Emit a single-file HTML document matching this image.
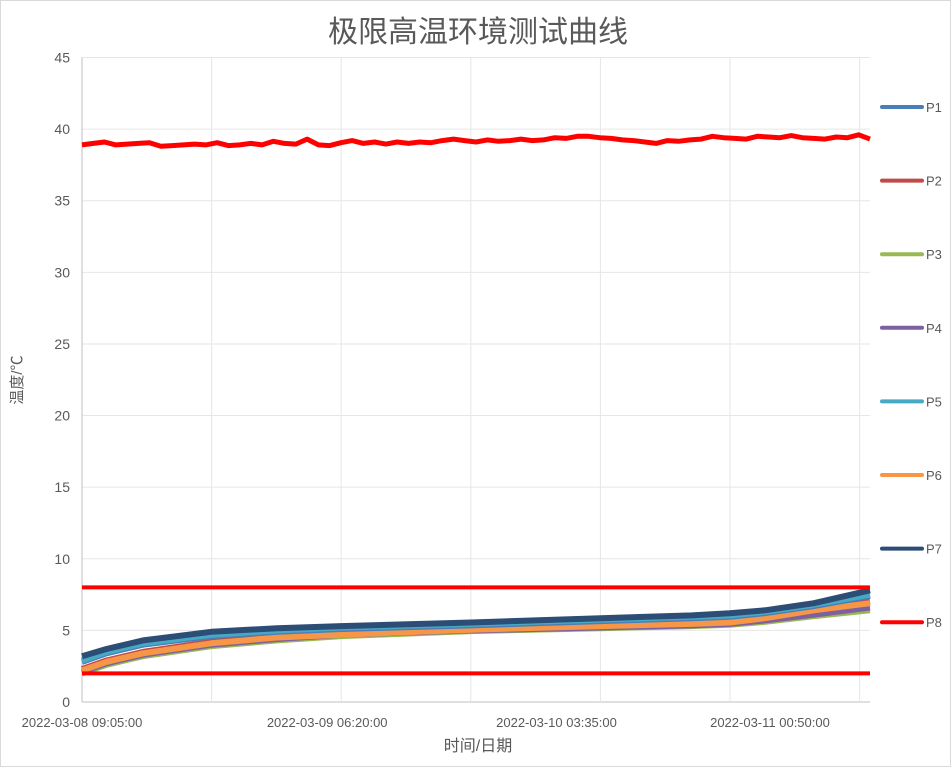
<!DOCTYPE html>
<html><head><meta charset="utf-8"><style>
html,body{margin:0;padding:0;background:#fff;}
body{width:952px;height:768px;overflow:hidden;font-family:"Liberation Sans","Noto Sans CJK SC",sans-serif;}
svg text{font-family:"Liberation Sans","Noto Sans CJK SC",sans-serif;}
</style></head><body>
<svg id="chart" width="952" height="768" xmlns="http://www.w3.org/2000/svg">
<rect x="0.5" y="0.5" width="950" height="766" fill="#fff" stroke="#d9d9d9"/>
<text x="478" y="42" text-anchor="middle" font-size="30" fill="#595959">极限高温环境测试曲线</text>
<text transform="translate(22,380) rotate(-90)" text-anchor="middle" font-size="15" fill="#595959">温度/℃</text>
<text x="478" y="751" text-anchor="middle" font-size="16" fill="#595959">时间/日期</text>
<g id="grid"></g><g id="series"></g><g id="axes"></g><g id="legend"></g>
</svg>
<script>
const yTicks=[0,5,10,15,20,25,30,35,40,45];
const xTickLabels=["2022-03-08 09:05:00","2022-03-09 06:20:00","2022-03-10 03:35:00","2022-03-11 00:50:00"];
const xTickHours=[0,20.1,38.9,56.4];
const gridHours=[10.625,21.25,31.875,42.5,53.125,63.75];
const times=[0,2,5,10.6,16,21.25,31.9,42.5,50,53.1,56,60,64.6];
const seriesNames=["P1","P2","P3","P4","P5","P6","P7","P8"];
const seriesColors=["#4a7ebb","#be4b48","#98b954","#7d60a0","#46aac5","#f79646","#2c4d75","#ff0000"];
const p1=[2.8,3.4,4.0,4.6,4.9,5.1,5.35,5.65,5.85,5.95,6.2,6.7,7.4];
const p2=[2.3,2.9,3.5,4.2,4.6,4.8,5.1,5.35,5.5,5.6,5.9,6.4,7.0];
const p3=[2.0,2.6,3.2,3.9,4.3,4.6,4.95,5.15,5.3,5.4,5.6,6.0,6.4];
const p4=[2.1,2.7,3.3,4.0,4.4,4.7,5.0,5.2,5.35,5.45,5.7,6.1,6.6];
const p5=[2.9,3.5,4.1,4.7,5.0,5.2,5.45,5.75,5.95,6.05,6.3,6.8,7.5];
const p6=[2.2,2.8,3.4,4.1,4.5,4.7,5.05,5.3,5.45,5.55,5.85,6.4,6.9];
const p7=[3.2,3.7,4.3,4.9,5.15,5.3,5.55,5.85,6.05,6.2,6.4,6.9,7.8];
const p8=[38.9,39.0,39.1,38.9,38.95,39.0,39.05,38.8,38.85,38.9,38.95,38.9,39.05,38.85,38.9,39.0,38.9,39.15,39.0,38.95,39.3,38.9,38.85,39.05,39.2,39.0,39.1,38.95,39.1,39.0,39.1,39.05,39.2,39.3,39.2,39.1,39.25,39.15,39.2,39.3,39.2,39.25,39.4,39.35,39.5,39.5,39.4,39.35,39.25,39.2,39.1,39.0,39.2,39.15,39.25,39.3,39.5,39.4,39.35,39.3,39.5,39.45,39.4,39.55,39.4,39.35,39.3,39.45,39.4,39.6,39.3];
const upperLimit=8, lowerLimit=2;
const ns="http://www.w3.org/2000/svg";
const X0=82,X1=870,Y0=702,Y45=57.5,TMAX=64.6;
function sx(h){return X0+h/TMAX*(X1-X0);}
function sy(v){return Y0-v/45*(Y0-Y45);}
function mk(tag,attrs,parent){const e=document.createElementNS(ns,tag);for(const k in attrs)e.setAttribute(k,attrs[k]);parent.appendChild(e);return e;}
const grid=document.getElementById('grid'),ser=document.getElementById('series'),axes=document.getElementById('axes'),leg=document.getElementById('legend');
yTicks.forEach(v=>{
  const l=mk('line',{x1:X0,x2:X1,y1:sy(v),y2:sy(v),stroke:v===0?'#bfbfbf':'#e6e6e6','stroke-width':1},grid);
  
  
  const t=mk('text',{x:70,y:sy(v)+5,'text-anchor':'end','font-size':14,fill:'#595959'},axes);
  t.textContent=v;
  
  
});
mk('line',{x1:X0,x2:X0,y1:Y45,y2:Y0,stroke:'#bfbfbf'},grid);
gridHours.forEach(h=>{
  const l=mk('line',{x1:sx(h),x2:sx(h),y1:Y45,y2:Y0,stroke:'#e6e6e6'},grid);
  
  
});
xTickLabels.forEach((s,i)=>{
  const t=mk('text',{x:sx(xTickHours[i]),y:727,'text-anchor':'middle','font-size':13,fill:'#595959'},axes);
  t.textContent=s;
  
  
});
function poly(vals,ts,color,w,name){
  const pts=vals.map((v,i)=>sx(ts[i]).toFixed(1)+','+sy(v).toFixed(1)).join(' ');
  const p=mk('polyline',{points:pts,fill:'none',stroke:color,'stroke-width':w,'stroke-linejoin':'round'},ser);
  
  
}
const data=[p3,p4,p2,p6,p1,p5,p7];const idx=[2,3,1,5,0,4,6];
data.forEach((d,k)=>poly(d,times,seriesColors[idx[k]],6,'series-'+seriesNames[idx[k]].toLowerCase()));
const p8t=p8.map((v,i)=>i*TMAX/(p8.length-1));
poly(p8,p8t,'#ff0000',5,'series-p8');
poly([upperLimit,upperLimit],[0,TMAX],'#ff0000',4,'upper-limit-line');
poly([lowerLimit,lowerLimit],[0,TMAX],'#ff0000',4,'lower-limit-line');
seriesNames.forEach((n,i)=>{
  const y=107+i*73.6;
  const g=mk('g',{},leg);
  
  
  mk('line',{x1:882,x2:922,y1:y,y2:y,stroke:seriesColors[i],'stroke-width':4,'stroke-linecap':'round'},g);
  const t=mk('text',{x:926,y:y+5,'font-size':13,fill:'#595959'},g);
  t.textContent=n;
});
</script>
</body></html>
